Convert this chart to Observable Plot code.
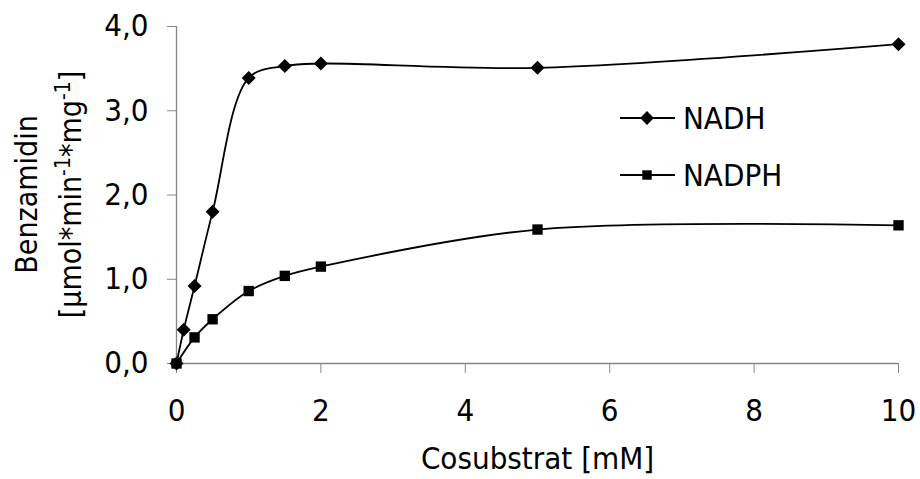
<!DOCTYPE html>
<html>
<head>
<meta charset="utf-8">
<script src="https://cdn.jsdelivr.net/npm/d3@7"></script>
<script src="https://cdn.jsdelivr.net/npm/@observablehq/plot@0.6"></script>
<style>
  html, body { margin: 0; padding: 0; background: #fff; }
  svg text { font-stretch: condensed; }
</style>
</head>
<body>
<div id="chart"></div>
<script>
// ---- data ----
const nadhX = [0, 0.1, 0.25, 0.5, 1, 1.5, 2, 5, 10];
const nadhY = [0, 0.40, 0.92, 1.80, 3.39, 3.53, 3.56, 3.51, 3.79];
const nadphX = [0, 0.25, 0.5, 1, 1.5, 2, 5, 10];
const nadphY = [0, 0.31, 0.525, 0.86, 1.04, 1.15, 1.59, 1.64];
const seriesNames = ["NADH", "NADPH"];
const xTicks = [0, 2, 4, 6, 8, 10];
const yTicks = [0, 1, 2, 3, 4];
const xTitle = "Cosubstrat [mM]";
const yTitle1 = "Benzamidin";

const nadh = nadhX.map((x, i) => ({series: seriesNames[0], x, y: nadhY[i]}));
const nadph = nadphX.map((x, i) => ({series: seriesNames[1], x, y: nadphY[i]}));
const all = nadh.concat(nadph);

const FONT = "'DejaVu Sans Condensed', 'DejaVu Sans', sans-serif";
const FS = 31;
const GRAY = "#868686";

const plot = Plot.plot({
  width: 920,
  height: 479,
  marginLeft: 176,
  marginRight: 22,
  marginTop: 26,
  marginBottom: 116,
  style: {fontFamily: FONT, fontSize: FS + "px", color: "black", background: "white"},
  x: {domain: [0, 10]},
  y: {domain: [0, 4]},
  marks: [
    Plot.axisX({ticks: xTicks, tickSize: 10, tickPadding: 25, stroke: GRAY, fill: "black", fontSize: FS, label: null, tickFormat: d => String(d)}),
    Plot.axisY({ticks: yTicks, tickSize: 9, tickPadding: 19, stroke: GRAY, fill: "black", fontSize: FS, label: null,
      tickFormat: d => d.toFixed(1).replace(".", ",")}),
    Plot.ruleY([0], {stroke: GRAY, strokeWidth: 1.3}),
    Plot.ruleX([0], {stroke: GRAY, strokeWidth: 1.3}),
    Plot.line(all, {x: "x", y: "y", z: "series", curve: "catmull-rom", stroke: "black", strokeWidth: 1.8}),
    Plot.dot(nadh, {x: "x", y: "y", symbol: "diamond2", r: 6.3, fill: "black", stroke: "none"}),
    Plot.dot(nadph, {x: "x", y: "y", symbol: "square2", r: 6.6, fill: "black", stroke: "none"}),
    Plot.text([xTitle], {frameAnchor: "bottom", dy: 105, lineAnchor: "bottom", fontSize: FS, fill: "black", text: d => d})
  ]
});

document.getElementById("chart").appendChild(plot);

// y-axis title (two lines, with superscripts)
const svg = d3.select(plot);
const cy = 194.5;
svg.append("text")
  .attr("transform", `translate(37,${cy}) rotate(-90)`)
  .attr("text-anchor", "middle")
  .attr("font-size", 30)
  .attr("font-family", FONT)
  .attr("fill", "black")
  .text(yTitle1);
const t2 = svg.append("text")
  .attr("transform", `translate(81,${cy}) rotate(-90)`)
  .attr("text-anchor", "middle")
  .attr("font-size", 30)
  .attr("font-family", FONT)
  .attr("fill", "black");
const parts = [["[µmol*min", 0], ["-1", 1], ["*mg", 0], ["-1", 1], ["]", 0]];
let prevSup = false;
parts.forEach(([s, sup]) => {
  const ts = t2.append("tspan").text(s);
  if (sup) { ts.attr("font-size", 21).attr("dy", prevSup ? 0 : -11); }
  else if (prevSup) { ts.attr("dy", 11); }
  prevSup = !!sup;
});

// legend
const legend = [
  {name: seriesNames[0], type: d3.symbolDiamond2, r: 6.2, y: 118},
  {name: seriesNames[1], type: d3.symbolSquare2, r: 6.0, y: 175}
];
legend.forEach(l => {
  const g = svg.append("g");
  g.append("line").attr("x1", 620).attr("x2", 675).attr("y1", l.y).attr("y2", l.y)
    .attr("stroke", "black").attr("stroke-width", 1.8);
  g.append("path").attr("d", d3.symbol().type(l.type).size(Math.PI * l.r * l.r)())
    .attr("transform", `translate(647,${l.y})`).attr("fill", "black");
  g.append("text").attr("x", 683).attr("y", l.y + 11).attr("font-size", FS)
    .attr("text-anchor", "start")
    .attr("font-family", FONT).attr("fill", "black").text(l.name);
});
</script>
</body>
</html>
